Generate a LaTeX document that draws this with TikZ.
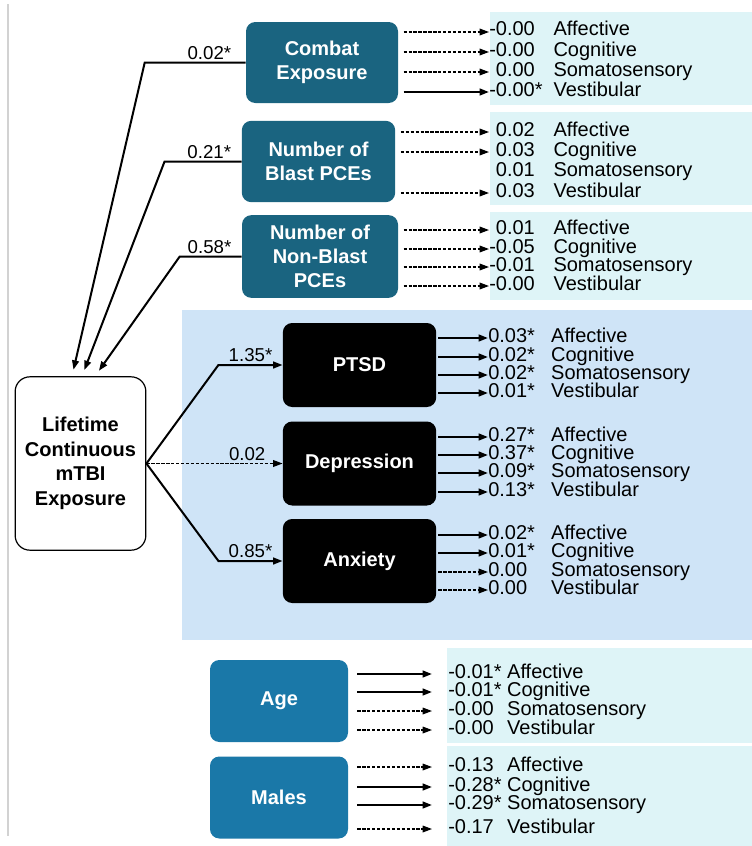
\documentclass[tikz,border=0pt]{standalone}
\usepackage{fontspec}
\setmainfont{Liberation Sans}
\usetikzlibrary{arrows.meta}
\definecolor{predteal}{RGB}{26,100,128}
\definecolor{ctrlblue}{RGB}{26,120,168}
\definecolor{medblue}{RGB}{207,228,247}
\definecolor{outcyan}{RGB}{222,244,247}
\newlength\gapw
\newcommand\outc[4][-0.00]{\phantom{#1}\llap{#2}\makebox[\gapw][l]{#3}#4}

\begin{document}
\begin{tikzpicture}[x=0.75pt,y=-0.75pt,
  box/.style={rounded corners=7pt,inner sep=2pt,align=center,text=white,
    font=\fontsize{15}{18}\selectfont\bfseries},
  predbox/.style={box,fill=predteal},
  medbox/.style={box,fill=black,minimum width=115pt,minimum height=63pt},
  ctrlbox/.style={box,fill=ctrlblue,minimum width=103.5pt,minimum height=61.5pt},
  res/.style={anchor=west,inner sep=0pt,text height=8pt,text depth=2pt,
    font=\fontsize{15}{16}\selectfont},
  coef/.style={above,inner sep=1.5pt,font=\fontsize{14}{16}\selectfont},
  sig/.style={-{Triangle[length=7pt,width=5pt]},line width=1.5pt},
  ns/.style={-{Triangle[length=7pt,width=5pt]},line width=0.9pt,dash pattern=on 2.5pt off 1.2pt}]
\useasboundingbox (0,0) rectangle (752,846);

% panels
\draw[gray!35,line width=0.8pt] (8,4) -- (8,836);
\fill[medblue] (182,310) rectangle (752,640);
\fill[outcyan] (490,12) rectangle (752,105);
\fill[outcyan] (490,112) rectangle (752,205);
\fill[outcyan] (490,212) rectangle (752,300);
\fill[outcyan] (447,648) rectangle (752,743);
\fill[outcyan] (447,746) rectangle (752,846);

% boxes
\node[predbox,minimum width=114pt,minimum height=60.75pt] (combat) at (322,62.5) {Combat\\Exposure};
\node[predbox,minimum width=115pt,minimum height=61pt] (blast) at (318.5,161.5) {Number of\\Blast PCEs};
\node[predbox,minimum width=117pt,minimum height=62pt] (nonblast) at (320,256.5) {Number of\\Non-Blast\\PCEs};
\node[draw,line width=0.9pt,rounded corners=11pt,minimum width=98pt,minimum height=130pt,align=center,
  font=\fontsize{15}{18.4}\selectfont\bfseries] (life) at (80.5,463.5) {Lifetime\\Continuous\\mTBI\\Exposure};
\node[medbox] (ptsd) at (359.5,365) {PTSD};
\node[medbox] (dep) at (359.5,463.5) {Depression};
\node[medbox] (anx) at (359.5,561) {Anxiety};
\node[ctrlbox] (age) at (279,701) {Age};
\node[ctrlbox] (males) at (279,797.5) {Males};

% into / out of mTBI exposure
\draw[sig,shorten >=5pt] (combat.west) -- ++(-101,0) node[coef,pos=0.36] {0.02*} -- ([xshift=-6.4pt]life.north);
\draw[sig,shorten >=5pt] (blast.west) -- ++(-77,0) node[coef,pos=0.42] {0.21*} -- ([xshift=1.1pt]life.north);
\draw[sig,shorten >=5pt] (nonblast.west) -- ++(-62,0) node[coef,pos=0.52] {0.58*} -- ([xshift=10.9pt]life.north);
\draw[sig] (life.east) -- ++(72,-98.5) -- (ptsd.west) node[coef,midway] {1.35*};
\draw[ns] (life.east) -- (dep.west) node[coef,pos=0.74] {0.02};
\draw[sig] (life.east) -- ++(72,97.5) -- (anx.west) node[coef,midway] {0.85*};

% outcomes
\setlength\gapw{14pt}
\begin{scope}[shorten <=4pt]
\node[res] (c1) at (489,32) {\outc{-0.00}{}{Affective}};
\node[res] (c2) at (489,52) {\outc{-0.00}{}{Cognitive}};
\node[res] (c3) at (489,72) {\outc{0.00}{}{Somatosensory}};
\node[res] (c4) at (489,92) {\outc{-0.00}{*}{Vestibular}};
\draw[ns] (combat.east |- c1.west) -- (c1.west);
\draw[ns] (combat.east |- c2.west) -- (c2.west);
\draw[ns] (combat.east |- c3.west) -- (c3.west);
\draw[sig] (combat.east |- c4.west) -- (c4.west);

\node[res] (b1) at (489,132) {\outc{0.02}{}{Affective}};
\node[res] (b2) at (489,152) {\outc{0.03}{}{Cognitive}};
\node[res] (b3) at (489,172) {\outc{0.01}{}{Somatosensory}};
\node[res] (b4) at (489,193) {\outc{0.03}{}{Vestibular}};
\draw[ns] (blast.east |- b1.west) -- (b1.west);
\draw[ns] (blast.east |- b2.west) -- (b2.west);
\draw[ns] (blast.east |- b4.west) -- (b4.west);

\node[res] (n1) at (489,230) {\outc{0.01}{}{Affective}};
\node[res] (n2) at (489,249) {\outc{-0.05}{}{Cognitive}};
\node[res] (n3) at (489,267) {\outc{-0.01}{}{Somatosensory}};
\node[res] (n4) at (489,286) {\outc{-0.00}{}{Vestibular}};
\draw[ns] (nonblast.east |- n1.west) -- (n1.west);
\draw[ns] (nonblast.east |- n2.west) -- (n2.west);
\draw[ns] (nonblast.east |- n3.west) -- (n3.west);
\draw[ns] (nonblast.east |- n4.west) -- (n4.west);
\end{scope}

\setlength\gapw{18pt}
\begin{scope}[shorten <=1.5pt]
\node[res] (p1) at (488,338) {\outc[0.00]{0.03}{*}{Affective}};
\node[res] (p2) at (488,357) {\outc[0.00]{0.02}{*}{Cognitive}};
\node[res] (p3) at (488,375) {\outc[0.00]{0.02}{*}{Somatosensory}};
\node[res] (p4) at (488,393) {\outc[0.00]{0.01}{*}{Vestibular}};
\draw[sig] (ptsd.east |- p1.west) -- (p1.west);
\draw[sig] (ptsd.east |- p2.west) -- (p2.west);
\draw[sig] (ptsd.east |- p3.west) -- (p3.west);
\draw[sig] (ptsd.east |- p4.west) -- (p4.west);

\node[res] (d1) at (488,437) {\outc[0.00]{0.27}{*}{Affective}};
\node[res] (d2) at (488,455) {\outc[0.00]{0.37}{*}{Cognitive}};
\node[res] (d3) at (488,473) {\outc[0.00]{0.09}{*}{Somatosensory}};
\node[res] (d4) at (488,492) {\outc[0.00]{0.13}{*}{Vestibular}};
\draw[sig] (dep.east |- d1.west) -- (d1.west);
\draw[sig] (dep.east |- d2.west) -- (d2.west);
\draw[sig] (dep.east |- d3.west) -- (d3.west);
\draw[sig] (dep.east |- d4.west) -- (d4.west);

\node[res] (a1) at (488,535) {\outc[0.00]{0.02}{*}{Affective}};
\node[res] (a2) at (488,553) {\outc[0.00]{0.01}{*}{Cognitive}};
\node[res] (a3) at (488,572) {\outc[0.00]{0.00}{}{Somatosensory}};
\node[res] (a4) at (488,590) {\outc[0.00]{0.00}{}{Vestibular}};
\draw[sig] (anx.east |- a1.west) -- (a1.west);
\draw[sig] (anx.east |- a2.west) -- (a2.west);
\draw[ns] (anx.east |- a3.west) -- (a3.west);
\draw[ns] (anx.east |- a4.west) -- (a4.west);
\end{scope}

\setlength\gapw{10pt}
\begin{scope}[shorten <=6.75pt,shorten >=12pt]
\node[res] (g1) at (448,674) {\outc{-0.01}{*}{Affective}};
\node[res] (g2) at (448,692) {\outc{-0.01}{*}{Cognitive}};
\node[res] (g3) at (448,711) {\outc{-0.00}{}{Somatosensory}};
\node[res] (g4) at (448,730) {\outc{-0.00}{}{Vestibular}};
\draw[sig] (age.east |- g1.west) -- (g1.west);
\draw[sig] (age.east |- g2.west) -- (g2.west);
\draw[ns] (age.east |- g3.west) -- (g3.west);
\draw[ns] (age.east |- g4.west) -- (g4.west);

\node[res] (m1) at (448,767) {\outc{-0.13}{}{Affective}};
\node[res] (m2) at (448,787) {\outc{-0.28}{*}{Cognitive}};
\node[res] (m3) at (448,805) {\outc{-0.29}{*}{Somatosensory}};
\node[res] (m4) at (448,829) {\outc{-0.17}{}{Vestibular}};
\draw[ns] (males.east |- m1.west) -- (m1.west);
\draw[sig] (males.east |- m2.west) -- (m2.west);
\draw[sig] (males.east |- m3.west) -- (m3.west);
\draw[ns] (males.east |- m4.west) -- (m4.west);
\end{scope}
\end{tikzpicture}
\end{document}
